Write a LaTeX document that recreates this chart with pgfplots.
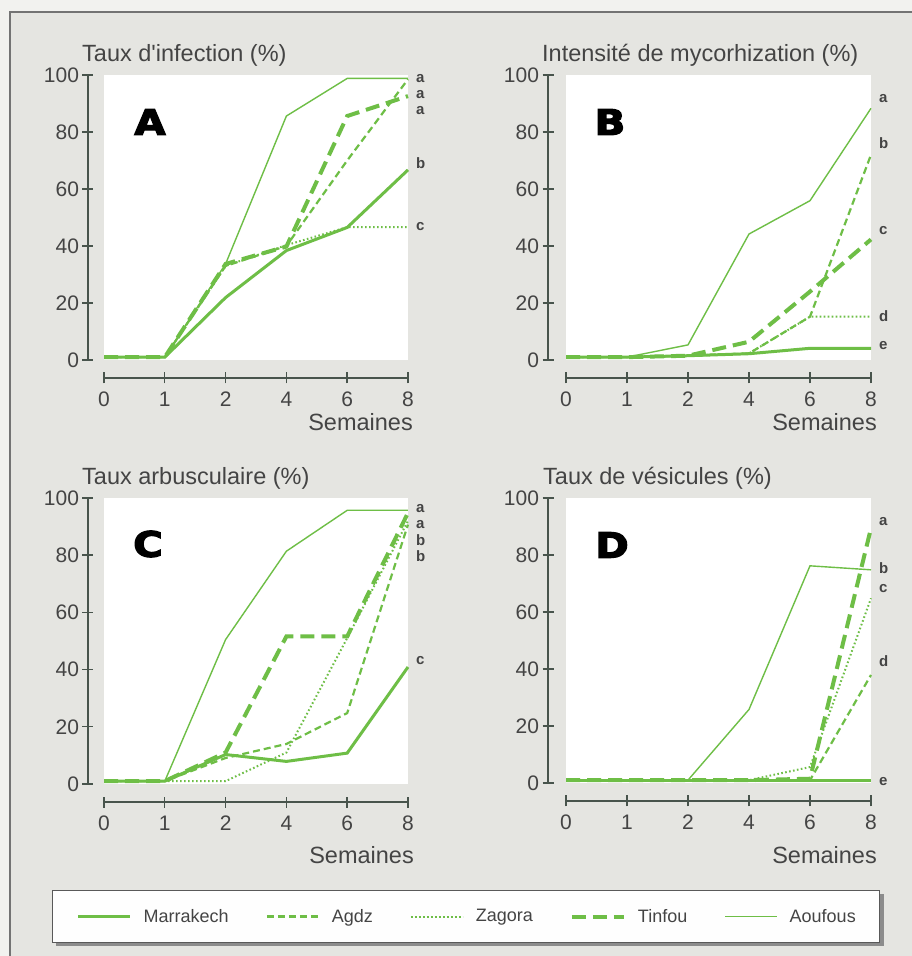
\documentclass[border=0pt]{standalone}
\usepackage{pgfplots}
\pgfplotsset{compat=1.18}
\usepackage{fontspec}
\setmainfont{Liberation Sans}
\newfontfamily\heavy{DejaVu Sans Bold}[FakeBold=3.5]
\definecolor{grn}{RGB}{110,190,70}
\definecolor{axc}{RGB}{72,84,76}
\definecolor{txc}{RGB}{68,68,68}
\definecolor{bgc}{RGB}{229,229,225}
\definecolor{obg}{RGB}{242,242,239}
\newcommand\ticksz{\fontsize{21}{24}\selectfont}
\newcommand\titlesz{\fontsize{23.5}{27}\selectfont}
\newcommand\legsz{\fontsize{18}{21}\selectfont}
\tikzset{lab/.style={font=\fontsize{15}{15}\selectfont\bfseries, text=txc, anchor=west, inner sep=0pt}}
\pgfplotsset{
 marr/.style={grn, line width=3pt},
 agdz/.style={grn, line width=2.2pt, dash pattern=on 7pt off 4pt},
 zag/.style={grn, line width=2pt, dash pattern=on 1.6pt off 2.4pt},
 tinf/.style={grn, line width=4pt, dash pattern=on 14pt off 7pt},
 aouf/.style={grn, line width=1.4pt},
 common/.style={
  scale only axis, anchor=south west, clip=false,
  ymin=0, ymax=100,
  tick align=center, major tick length=11pt,
  axis line style={axc, line width=1.4pt},
  every tick/.style={axc, line width=1.4pt},
  tick label style={font=\ticksz, text=txc},
  /pgf/number format/assume math mode=true,
 },
 panel/.style={common,
  xmin=0, xmax=5,
  axis x line*=bottom, axis y line=none,
  axis x line shift=18pt,
  xticklabel style={yshift=-5pt},
  xtick={0,1,2,3,4,5}, xticklabels={0,1,2,4,6,8},
  axis background/.style={fill=white},
 },
 yax/.style={common,
  xmin=0, xmax=1, width=20pt,
  axis x line=none, axis y line*=left,
  ytick={0,20,40,60,80,100},
 },
}
\begin{document}
\begin{tikzpicture}
\begin{scope}[x=1pt,y=1pt]
\useasboundingbox (0,0) rectangle (912,956);
\fill[obg] (0,0) rectangle (912,956);
\fill[bgc] (10,-10) rectangle (930,944);
\draw[black!55, line width=1.5pt] (10,-10) -- (10,944) -- (930,944);
% legend shadow
\fill[black!45] (56,10) rectangle (884,62);
\end{scope}

% ---------- y axes (detached) ----------
\begin{axis}[yax, at={(88pt,596pt)}, height=285pt]\end{axis}
\begin{axis}[yax, at={(548pt,596pt)}, height=285pt]\end{axis}
\begin{axis}[yax, at={(88pt,172pt)}, height=286pt]\end{axis}
\begin{axis}[yax, at={(548pt,173pt)}, height=285pt]\end{axis}

% ---------- Panel A ----------
\begin{axis}[panel, at={(104pt,596pt)}, width=304pt, height=285pt]
\addplot[marr] coordinates {(0,1)(1,1)(2,21.9)(3,38.4)(4,46.5)(5,66.7)};
\addplot[agdz] coordinates {(0,1)(1,1)(2,33)(3,40)(4,70)(5,98.5)};
\addplot[zag] coordinates {(0,1)(1,1)(2,33)(3,40.3)(4,46.6)(5,46.6)};
\addplot[tinf] coordinates {(0,1)(1,1)(2,33.7)(3,39.8)(4,85.6)(5,92.6)};
\addplot[aouf] coordinates {(0,1)(1,1)(2,33.7)(3,85.6)(4,98.8)(5,98.8)};
\node[lab] at (axis cs:5.13,98.8) {a};
\node[lab] at (axis cs:5.13,93) {a};
\node[lab] at (axis cs:5.13,87.7) {a};
\node[lab] at (axis cs:5.13,69) {b};
\node[lab] at (axis cs:5.13,46.8) {c};
\end{axis}

% ---------- Panel B ----------
\begin{axis}[panel, at={(566pt,596pt)}, width=305pt, height=285pt]
\addplot[marr] coordinates {(0,1)(1,1)(2,1.5)(3,2.2)(4,4.1)(5,4.1)};
\addplot[agdz] coordinates {(0,1)(1,1)(2,1.5)(3,2.3)(4,15.2)(5,72)};
\addplot[zag] coordinates {(0,1)(1,1)(2,1.5)(3,2.3)(4,15.2)(5,15.2)};
\addplot[tinf] coordinates {(0,1)(1,1)(2,1.5)(3,6.4)(4,24)(5,42.3)};
\addplot[aouf] coordinates {(0,1)(1,1)(2,5.3)(3,44.2)(4,55.9)(5,88.3)};
\node[lab] at (axis cs:5.13,91.8) {a};
\node[lab] at (axis cs:5.13,76) {b};
\node[lab] at (axis cs:5.13,45.4) {c};
\node[lab] at (axis cs:5.13,15.4) {d};
\node[lab] at (axis cs:5.13,4.9) {e};
\end{axis}

% ---------- Panel C ----------
\begin{axis}[panel, at={(104pt,172pt)}, width=304pt, height=286pt,
 legend columns=5,
 legend image code/.code={\draw[#1] (0pt,0pt) -- (52pt,0pt);},
 legend style={at={(axis description cs:-0.171,-0.371)}, anchor=north west,
  draw=black!65, line width=1.3pt, fill=white!97!bgc, font=\legsz, text=txc,
  inner xsep=24pt, inner ysep=18.5pt,
  nodes={inner sep=0pt},
  /tikz/every odd column/.append style={column sep=12pt},
  /tikz/every even column/.append style={column sep=37pt}},
]
\addplot[marr] coordinates {(0,1)(1,1)(2,10.3)(3,7.9)(4,10.8)(5,40.9)};
\addlegendentry{Marrakech}
\addplot[agdz] coordinates {(0,1)(1,1)(2,9.1)(3,14)(4,24.8)(5,90.7)};
\addlegendentry{Agdz}
\addplot[zag] coordinates {(0,1)(1,1)(2,1)(3,11)(4,51)(5,92)};
\addlegendentry{Zagora}
\addplot[tinf] coordinates {(0,1)(1,1)(2,11)(3,51.6)(4,51.6)(5,94.8)};
\addlegendentry{Tinfou}
\addplot[aouf] coordinates {(0,1)(1,1)(2,50.5)(3,81.4)(4,95.7)(5,95.7)};
\addlegendentry{Aoufous}
\node[lab] at (axis cs:5.13,96.2) {a};
\node[lab] at (axis cs:5.13,90.7) {a};
\node[lab] at (axis cs:5.13,85.4) {b};
\node[lab] at (axis cs:5.13,79.6) {b};
\node[lab] at (axis cs:5.13,43.2) {c};
\end{axis}

% ---------- Panel D ----------
\begin{axis}[panel, at={(566pt,173pt)}, width=305pt, height=285pt]
\addplot[marr] coordinates {(0,1)(1,1)(2,1)(3,1)(4,1)(5,1)};
\addplot[agdz] coordinates {(0,1)(1,1)(2,1)(3,1)(4,1)(5,37.9)};
\addplot[zag] coordinates {(0,1)(1,1)(2,1)(3,1)(4,5.6)(5,64.8)};
\addplot[tinf] coordinates {(0,1)(1,1)(2,1)(3,1)(4,1.5)(5,89.4)};
\addplot[aouf] coordinates {(0,1)(1,1)(2,1)(3,25.8)(4,76.2)(5,74.8)};
\node[lab] at (axis cs:5.13,91.8) {a};
\node[lab] at (axis cs:5.13,75.4) {b};
\node[lab] at (axis cs:5.13,68.3) {c};
\node[lab] at (axis cs:5.13,42.6) {d};
\node[lab] at (axis cs:5.13,0.6) {e};
\end{axis}

% ---------- titles and labels ----------
\begin{scope}[x=1pt,y=1pt,every node/.style={text=txc, inner sep=0pt}]
\node[anchor=base west, font=\titlesz] at (82,894.5) {Taux d\textquotesingle infection (\%)};
\node[anchor=base west, font=\titlesz] at (542,894.5) {Intensité de mycorhization (\%)};
\node[anchor=base west, font=\titlesz] at (82,471) {Taux arbusculaire (\%)};
\node[anchor=base west, font=\titlesz] at (543,471) {Taux de vésicules (\%)};
\node[anchor=base east, font=\titlesz] at (413,525.5) {Semaines};
\node[anchor=base east, font=\titlesz] at (877,525) {Semaines};
\node[anchor=base east, font=\titlesz] at (414,92.5) {Semaines};
\node[anchor=base east, font=\titlesz] at (877,92.5) {Semaines};
\end{scope}
\begin{scope}[x=1pt,y=1pt,every node/.style={text=black, font=\fontsize{35}{35}\heavy}]
\node at (150,834) {\scalebox{1.15}[1]{A}};
\node at (610,834) {\scalebox{1.15}[1]{B}};
\node at (148,412) {\scalebox{1.15}[1]{C}};
\node at (612,411) {\scalebox{1.15}[1]{D}};
\end{scope}
\end{tikzpicture}
\end{document}
